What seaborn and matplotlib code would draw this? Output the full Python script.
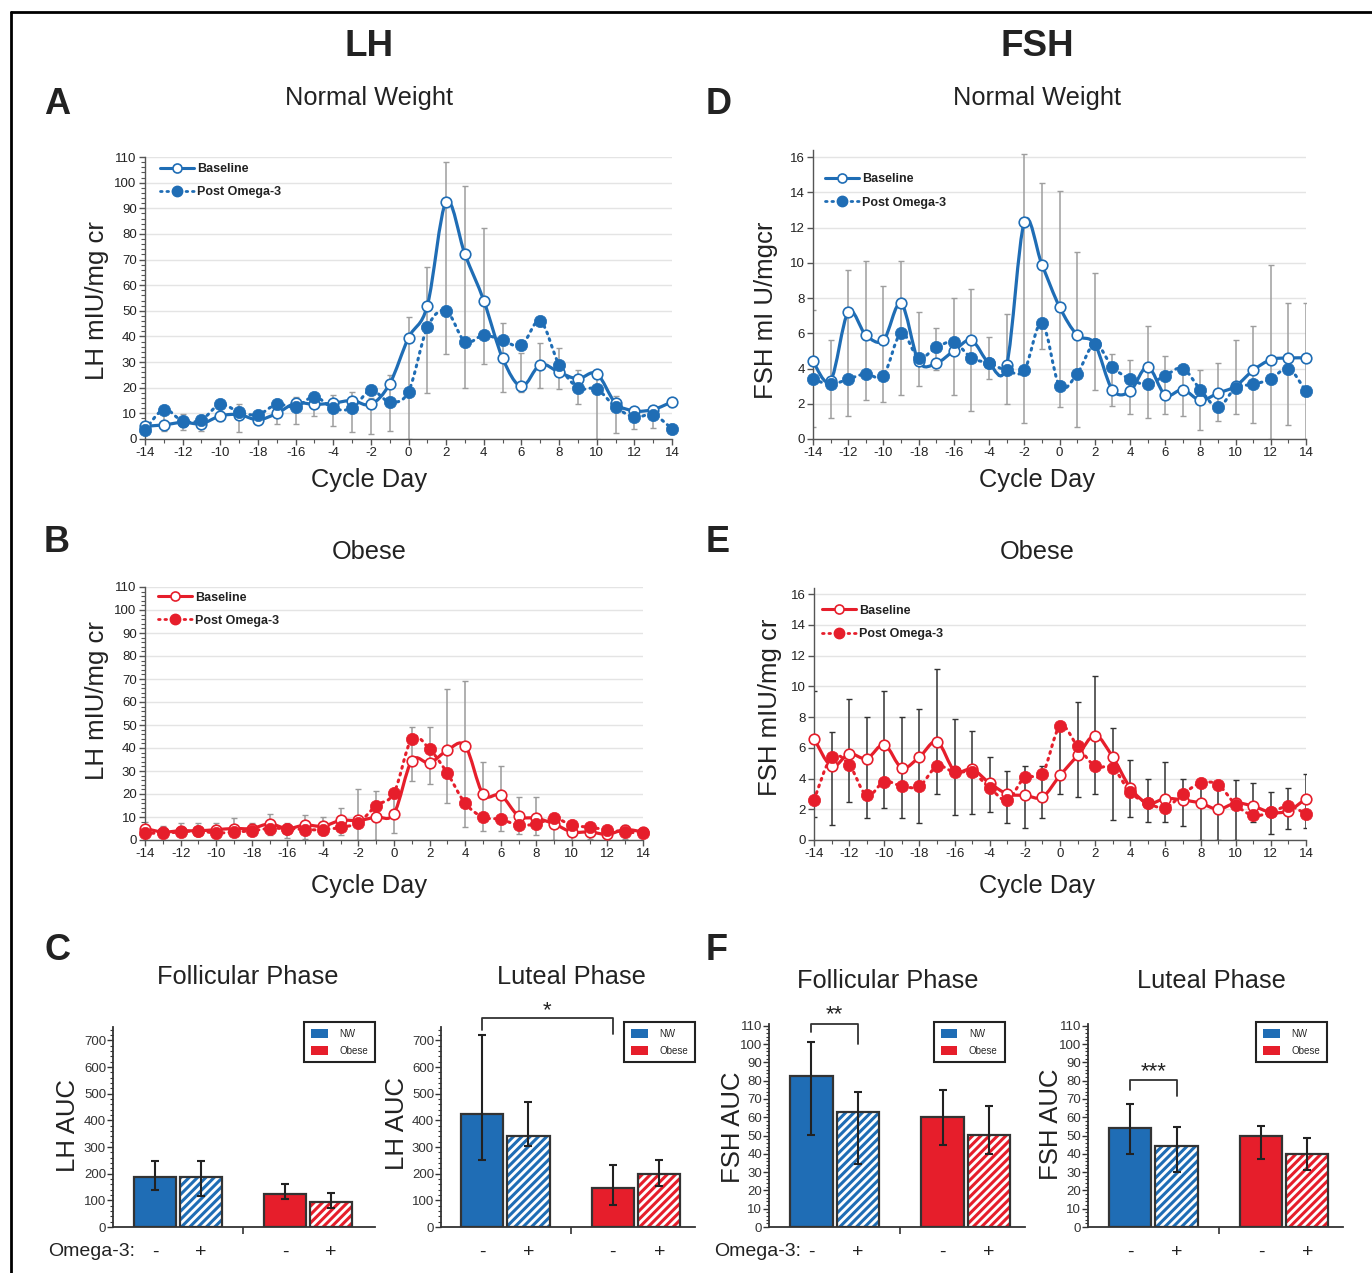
import numpy as np
import pandas as pd
import matplotlib
matplotlib.use('Agg')
import matplotlib.pyplot as plt
import seaborn as sns
from matplotlib.path import Path
from matplotlib.patches import PathPatch, Patch, Rectangle
from matplotlib.lines import Line2D

# ---------------- data ----------------
days = np.arange(-14, 15)
day_labels = ['-14', '-12', '-10', '-18', '-16', '-4', '-2', '0', '2', '4', '6', '8', '10', '12', '14']

lh_nw_base = [5, 5.5, 6.5, 6, 9, 9.5, 7.5, 10, 14, 13.5, 14, 15, 13.5, 21.5, 39.5, 52, 92.5, 72, 54,
              31.5, 20.5, 29, 26, 23.5, 25.5, 14, 11, 11.5, 14.5]
lh_nw_post = [3.5, 11.5, 7, 7.5, 13.5, 10.5, 9.5, 13.5, 12.5, 16.5, 12, 12, 19, 14.5, 18.5, 43.5, 50, 38,
              40.5, 38.5, 36.5, 46, 29, 20, 19.5, 12.5, 8.5, 9.5, 4]
lh_nw_lo = [3, 3, 3.6, 3, 7, 2.6, 6.5, 6, 6, 8.8, 5.2, 2.6, 2, 3, 0, 17.9, 33.2, 19.7, 29.3, 18.2, 18.4,
            20, 19.5, 13.5, 0, 2.3, 3.9, 4.3, 12.5]
lh_nw_hi = [6, 10, 9.7, 8, 12, 13.6, 9, 14, 16.3, 16.5, 17.2, 18.3, 16, 24.8, 47.5, 67.2, 108, 98.8, 82.2,
            45.4, 33.5, 37.6, 35.4, 27, 26.7, 16.6, 12.3, 13, 15.5]

fsh_nw_base = [4.4, 3.3, 7.2, 5.9, 5.6, 7.7, 4.4, 4.3, 5.0, 5.6, 4.3, 4.2, 12.3, 9.9, 7.5, 5.9, 5.4, 2.8,
               2.7, 4.1, 2.5, 2.8, 2.2, 2.6, 3.0, 3.9, 4.5, 4.6, 4.6]
fsh_nw_post = [3.4, 3.1, 3.4, 3.7, 3.6, 6.0, 4.6, 5.2, 5.5, 4.6, 4.3, 3.9, 3.9, 6.6, 3.0, 3.7, 5.4, 4.1,
               3.4, 3.1, 3.6, 4.0, 2.8, 1.8, 2.9, 3.1, 3.4, 4.0, 2.7]
fsh_nw_lo = [0.7, 1.2, 1.3, 2.2, 2.1, 2.5, 3.0, 3.9, 2.5, 1.6, 3.4, 2.0, 0.9, 5.1, 1.8, 0.7, 2.8, 1.9,
             1.4, 1.2, 1.4, 1.3, 0.5, 1.0, 1.4, 0.9, 0.0, 0.8, 0.0]
fsh_nw_hi = [7.3, 5.6, 9.6, 10.1, 8.7, 10.1, 7.2, 6.3, 8.0, 8.5, 5.8, 7.1, 16.2, 14.5, 14.1, 10.6, 9.4,
             4.8, 4.5, 6.4, 4.7, 4.0, 3.9, 4.3, 5.6, 6.4, 9.9, 7.7, 7.7]

lh_ob_base = [5, 3.5, 4, 4, 4.5, 5, 5, 7, 5, 6.5, 6, 8.5, 8.5, 10, 11.5, 34.5, 33.5, 39, 41, 20, 19.5,
              10.5, 9.5, 7, 3.5, 3.5, 2.5, 4.5, 3.5]
lh_ob_post = [3, 3, 3.5, 4, 3, 3.5, 4, 5, 5, 4.5, 4.5, 5.5, 7.5, 15, 20.5, 44, 39.5, 29, 16, 10, 9, 6.5,
              7, 9.5, 6.5, 5.5, 4.5, 3.5, 3]
lh_ob_lo = [1, 1, 2, 2, 1, 2, 2, 2, 1, 0.5, 2, 2, 0, 0, 3, 25.5, 24.5, 16, 5.5, 4, 4, 2.5, 2, 0, 0, 0.5,
            0, 0.5, 1]
lh_ob_hi = [8, 6, 7.5, 7.5, 7.5, 9.5, 7.5, 11.5, 7.5, 11, 10, 14, 22, 21.5, 21, 49, 49, 65.5, 69, 34, 32,
            18.5, 18.5, 10, 5, 5, 5, 6.5, 5]

fsh_ob_base = [6.6, 4.8, 5.6, 5.3, 6.2, 4.7, 5.4, 6.4, 4.5, 4.6, 3.7, 3.0, 2.9, 2.8, 4.2, 5.5, 6.8, 5.4,
               3.4, 2.4, 2.7, 2.6, 2.4, 2.0, 2.4, 2.2, 1.8, 1.9, 2.7]
fsh_ob_post = [2.6, 5.4, 4.9, 2.9, 3.8, 3.5, 3.5, 4.8, 4.4, 4.4, 3.4, 2.6, 4.1, 4.3, 7.4, 6.1, 4.8, 4.7,
               3.1, 2.4, 2.1, 3.0, 3.7, 3.6, 2.3, 1.6, 1.8, 2.2, 1.7]
fsh_ob_lo = [1.5, 1.0, 2.5, 1.4, 2.1, 1.4, 1.1, 3.0, 1.6, 1.7, 1.8, 1.1, 0.8, 1.4, 3.0, 2.8, 3.0, 1.3,
             1.5, 1.2, 1.2, 0.9, 0.0, 0.0, 0.0, 1.2, 0.4, 0.7, 0.8]
fsh_ob_hi = [9.7, 7.0, 9.2, 8.0, 9.7, 8.0, 8.5, 11.1, 7.9, 7.1, 5.4, 4.5, 4.8, 4.8, 7.5, 9.0, 10.7, 7.3,
             5.2, 4.0, 5.1, 4.0, 3.7, 3.6, 3.9, 3.7, 3.1, 3.4, 4.3]

bar_groups = ['NW', 'NW', 'Obese', 'Obese']
bar_omega = ['-', '+', '-', '+']
lh_foll = [188, 188, 125, 93]
lh_foll_lo = [138, 116, 106, 71]
lh_foll_hi = [249, 249, 163, 126]
lh_lut = [423, 341, 146, 200]
lh_lut_lo = [252, 305, 82, 153]
lh_lut_hi = [721, 468, 231, 252]
fsh_foll = [82.7, 62.7, 59.9, 50.5]
fsh_foll_lo = [50.5, 34.4, 45.0, 39.9]
fsh_foll_hi = [101.3, 74.0, 75.0, 66.0]
fsh_lut = [54.3, 44.1, 49.5, 39.7]
fsh_lut_lo = [39.9, 29.9, 37.2, 31.0]
fsh_lut_hi = [67.4, 54.5, 55.4, 48.5]

BLUE = '#1f6db5'
RED = '#e61e2b'

# ---------------- setup ----------------
sns.set_theme(style='white')
plt.rcParams['font.family'] = ['Liberation Sans', 'DejaVu Sans']
plt.rcParams['hatch.linewidth'] = 2.2

W, H = 1372, 1273
fig = plt.figure(figsize=(W / 100, H / 100), dpi=100)


def add_axes(x0, x1, ytop, ybot):
    return fig.add_axes([x0 / W, 1 - ybot / H, (x1 - x0) / W, (ybot - ytop) / H])


def ftext(x, y, s, **kw):
    kw.setdefault('ha', 'center')
    kw.setdefault('va', 'center')
    kw.setdefault('color', '#222222')
    fig.text(x / W, 1 - y / H, s, **kw)


def smooth_path(xs, ys):
    xs = np.asarray(xs, float)
    ys = np.asarray(ys, float)
    n = len(xs)
    verts = [(xs[0], ys[0])]
    codes = [Path.MOVETO]
    for i in range(n - 1):
        p0 = np.array([xs[max(i - 1, 0)], ys[max(i - 1, 0)]])
        p1 = np.array([xs[i], ys[i]])
        p2 = np.array([xs[i + 1], ys[i + 1]])
        p3 = np.array([xs[min(i + 2, n - 1)], ys[min(i + 2, n - 1)]])
        c1 = p1 + (p2 - p0) / 6.0
        c2 = p2 - (p3 - p1) / 6.0
        verts += [tuple(c1), tuple(c2), tuple(p2)]
        codes += [Path.CURVE4] * 3
    return Path(verts, codes)


def line_panel(ax, base, post, lo, hi, color, ytop, yticks, yminor, ecolor, leg_anchor):
    base = np.asarray(base, float)
    post = np.asarray(post, float)
    lo = np.asarray(lo, float)
    hi = np.asarray(hi, float)
    mid = (lo + hi) / 2
    ax.errorbar(days, mid, yerr=[mid - lo, hi - mid], fmt='none', ecolor=ecolor,
                elinewidth=1.1, capsize=2.2, capthick=1.0, zorder=1)
    ax.add_patch(PathPatch(smooth_path(days, base), fill=False, edgecolor=color, lw=2.3, zorder=3))
    pp = PathPatch(smooth_path(days, post), fill=False, edgecolor=color, lw=2.2,
                   linestyle=(0, (0.6, 1.7)), zorder=3)
    pp.set_capstyle('round')
    ax.add_patch(pp)
    sns.scatterplot(x=days, y=base, ax=ax, marker='o', s=58, facecolors='white',
                    edgecolors=color, linewidths=1.2, zorder=4, clip_on=False, legend=False)
    sns.scatterplot(x=days, y=post, ax=ax, marker='o', s=78, facecolors=color,
                    edgecolors=color, linewidths=0.5, zorder=5, clip_on=False, legend=False)
    ax.set_xlim(-14, 14)
    ax.set_ylim(0, ytop)
    ax.set_xticks(days[::2])
    ax.set_xticklabels(day_labels)
    ax.set_xticks(days, minor=True)
    ax.set_yticks(yticks)
    if yminor:
        ax.set_yticks(np.arange(0, yticks[-1] + 0.01, yminor), minor=True)
    ax.yaxis.grid(True, color='#e4e4e4', lw=1.0)
    ax.xaxis.grid(False)
    ax.set_axisbelow(True)
    for s in ['top', 'right']:
        ax.spines[s].set_visible(False)
    for s in ['left', 'bottom']:
        ax.spines[s].set_color('#555555')
        ax.spines[s].set_linewidth(1.0)
    ax.tick_params(axis='both', which='both', direction='out', bottom=True, left=True,
                   colors='#555555', labelcolor='#222222', labelsize=9.5, pad=2)
    ax.tick_params(which='major', length=4, width=1)
    ax.tick_params(which='minor', length=3, width=0.8)
    ax.set_xlabel('')
    ax.set_ylabel('')
    handles = [Line2D([0], [0], color=color, lw=2.2, marker='o', mfc='white', mec=color, ms=6.5, mew=1.2),
               Line2D([0], [0], color=color, lw=2.0, ls=(0, (0.6, 1.7)), dash_capstyle='round',
                      marker='o', mfc=color, mec=color, ms=7.5)]
    leg = ax.legend(handles, ['Baseline', 'Post Omega-3'], loc='upper left', bbox_to_anchor=leg_anchor,
                    frameon=False, borderaxespad=0, borderpad=0, handlelength=2.7, handletextpad=0.25,
                    labelspacing=0.9, prop={'weight': 'bold', 'size': 9})
    for t in leg.get_texts():
        t.set_color('#222222')


def bar_panel(ax, means, lo, hi, ytop, yticks, yminor, xlim, leg_anchor):
    df = pd.DataFrame({'group': bar_groups, 'omega': bar_omega, 'auc': means})
    sns.barplot(data=df, x='group', y='auc', hue='omega', order=['NW', 'Obese'], hue_order=['-', '+'],
                width=0.71, gap=0.09, errorbar=None, ax=ax, legend=False,
                palette=[BLUE, BLUE], edgecolor='#333333', linewidth=1.6)
    bars = sorted([p for p in ax.patches if isinstance(p, Rectangle)], key=lambda p: p.get_x())
    cols = [BLUE, BLUE, RED, RED]
    centers = []
    for i, p in enumerate(bars):
        c = cols[i]
        centers.append(p.get_x() + p.get_width() / 2)
        if bar_omega[i] == '-':
            p.set_facecolor(c)
            p.set_edgecolor('#333333')
        else:
            p.set_facecolor('white')
            p.set_edgecolor(c)
            p.set_hatch('////')
            p.set_linewidth(0)
            ax.add_patch(Rectangle((p.get_x(), 0), p.get_width(), p.get_height(), fill=False,
                                   edgecolor='#333333', lw=1.6, zorder=p.get_zorder() + 0.1))
    centers = np.array(centers)
    m = np.asarray(means, float)
    ax.errorbar(centers, m, yerr=[m - np.asarray(lo, float), np.asarray(hi, float) - m], fmt='none',
                ecolor='#222222', elinewidth=1.5, capsize=3, capthick=1.5, zorder=6)
    ax.set_xlim(*xlim)
    ax.set_ylim(0, ytop)
    ax.set_yticks(yticks)
    ax.set_yticks(np.arange(0, ytop, yminor), minor=True)
    ax.set_xticks(centers)
    ax.set_xticklabels(bar_omega, fontsize=14, color='#222222')
    ax.set_xticks([0.5], minor=True)
    for s in ['top', 'right']:
        ax.spines[s].set_visible(False)
    for s in ['left', 'bottom']:
        ax.spines[s].set_color('#333333')
        ax.spines[s].set_linewidth(1.3)
    ax.tick_params(axis='x', which='major', length=0, pad=12, bottom=True)
    ax.tick_params(axis='x', which='minor', length=5, width=1.2, direction='out', bottom=True, color='#333333')
    ax.tick_params(axis='y', which='major', length=4, width=1, direction='out', left=True,
                   color='#333333', labelsize=9.5, labelcolor='#333333', pad=1)
    ax.tick_params(axis='y', which='minor', length=2.5, width=0.8, direction='out', left=True, color='#333333')
    ax.set_xlabel('')
    ax.set_ylabel('')
    handles = [Patch(facecolor=BLUE, edgecolor='none'), Patch(facecolor=RED, edgecolor='none')]
    leg = ax.legend(handles, ['NW', 'Obese'], loc='upper right', bbox_to_anchor=leg_anchor,
                    frameon=True, fancybox=False, framealpha=1, edgecolor='#222222', fontsize=7,
                    handlelength=1.7, handleheight=1.1, borderpad=0.7, labelspacing=0.7,
                    handletextpad=1.2, borderaxespad=0)
    leg.get_frame().set_linewidth(1.5)
    return centers


# ---------------- line panels ----------------
axA = add_axes(145, 672, 157, 439)
line_panel(axA, lh_nw_base, lh_nw_post, lh_nw_lo, lh_nw_hi, BLUE, 110, np.arange(0, 111, 10), 2,
           '#9e9e9e', (0.028, 0.979))
axD = add_axes(813, 1306, 150, 439)
line_panel(axD, fsh_nw_base, fsh_nw_post, fsh_nw_lo, fsh_nw_hi, BLUE, 16.4, np.arange(0, 17, 2), None,
           '#9e9e9e', (0.024, 0.919))
axB = add_axes(145, 643, 587, 840)
line_panel(axB, lh_ob_base, lh_ob_post, lh_ob_lo, lh_ob_hi, RED, 110, np.arange(0, 111, 10), 2,
           '#9a9a9a', (0.026, 0.982))
axE = add_axes(814, 1306, 588, 840)
line_panel(axE, fsh_ob_base, fsh_ob_post, fsh_ob_lo, fsh_ob_hi, RED, 16.4, np.arange(0, 17, 2), None,
           '#333333', (0.016, 0.934))

# ---------------- bar panels ----------------
axC1 = add_axes(113, 375, 1027, 1227)
bar_panel(axC1, lh_foll, lh_foll_lo, lh_foll_hi, 750, np.arange(0, 701, 100), 20, (-0.5, 1.515), (1.0, 1.025))
axC2 = add_axes(441, 695, 1027, 1227)
c2 = bar_panel(axC2, lh_lut, lh_lut_lo, lh_lut_hi, 750, np.arange(0, 701, 100), 20, (-0.49, 1.45), (1.0, 1.025))
axF1 = add_axes(769, 1025, 1024, 1227)
f1 = bar_panel(axF1, fsh_foll, fsh_foll_lo, fsh_foll_hi, 111, np.arange(0, 111, 10), 2, (-0.5, 1.45), (0.92, 1.01))
axF2 = add_axes(1088, 1343, 1024, 1227)
f2 = bar_panel(axF2, fsh_lut, fsh_lut_lo, fsh_lut_hi, 111, np.arange(0, 111, 10), 2, (-0.5, 1.45), (0.937, 1.01))

# significance brackets
axC2.plot([c2[0], c2[0], c2[2], c2[2]], [740, 784, 784, 725], color='#333333', lw=1.3, clip_on=False)
axC2.text((c2[0] + c2[2]) / 2, 812, '*', ha='center', va='center', fontsize=16, color='#222222', clip_on=False)
axF1.plot([f1[0], f1[0], f1[1], f1[1]], [106.7, 111.1, 111.1, 100.2], color='#333333', lw=1.3, clip_on=False)
axF1.text((f1[0] + f1[1]) / 2, 116.0, '**', ha='center', va='center', fontsize=16, color='#222222', clip_on=False)
axF2.plot([f2[0], f2[0], f2[1], f2[1]], [75.0, 80.4, 80.4, 71.7], color='#333333', lw=1.3, clip_on=False)
axF2.text((f2[0] + f2[1]) / 2, 85.0, '***', ha='center', va='center', fontsize=16, color='#222222', clip_on=False)

# ---------------- figure text ----------------
ftext(369, 47, 'LH', fontsize=26.5, fontweight='bold')
ftext(1037, 47, 'FSH', fontsize=26.5, fontweight='bold')
ftext(369, 98, 'Normal Weight', fontsize=18.3)
ftext(1037, 98, 'Normal Weight', fontsize=18.3)
ftext(369, 552, 'Obese', fontsize=18.3)
ftext(1037, 552, 'Obese', fontsize=18.3)
for (x, y, s) in [(57, 105, 'A'), (719, 105, 'D'), (57, 542, 'B'), (718, 542, 'E'), (57, 950, 'C'), (717, 950, 'F')]:
    ftext(x, y, s, fontsize=26, fontweight='bold')
for (x, y) in [(369, 480), (1037, 480), (369, 886), (1037, 886)]:
    ftext(x, y, 'Cycle Day', fontsize=18.3)
ftext(97, 301, 'LH mIU/mg cr', fontsize=18.5, rotation=90)
ftext(766, 310, 'FSH mI U/mgcr', fontsize=18.5, rotation=90)
ftext(97, 701, 'LH mIU/mg cr', fontsize=18.5, rotation=90)
ftext(770, 707, 'FSH mIU/mg cr', fontsize=18.5, rotation=90)
ftext(68, 1126, 'LH AUC', fontsize=18.5, rotation=90)
ftext(397, 1123, 'LH AUC', fontsize=18.5, rotation=90)
ftext(733, 1127, 'FSH AUC', fontsize=18.5, rotation=90)
ftext(1051, 1124, 'FSH AUC', fontsize=18.5, rotation=90)
ftext(248, 977, 'Follicular Phase', fontsize=18.3)
ftext(571, 977, 'Luteal Phase', fontsize=18.3)
ftext(888, 981, 'Follicular Phase', fontsize=18.3)
ftext(1211, 981, 'Luteal Phase', fontsize=18.3)
ftext(48, 1251, 'Omega-3:', fontsize=14, ha='left')
ftext(714, 1251, 'Omega-3:', fontsize=14, ha='left')

# outer frame
fig.add_artist(Line2D([11 / W, 1.0], [1 - 12 / H, 1 - 12 / H], color='black', lw=2))
fig.add_artist(Line2D([11 / W, 11 / W], [1 - 12 / H, 0.0], color='black', lw=2))

fig.savefig('out.png', dpi=100)
